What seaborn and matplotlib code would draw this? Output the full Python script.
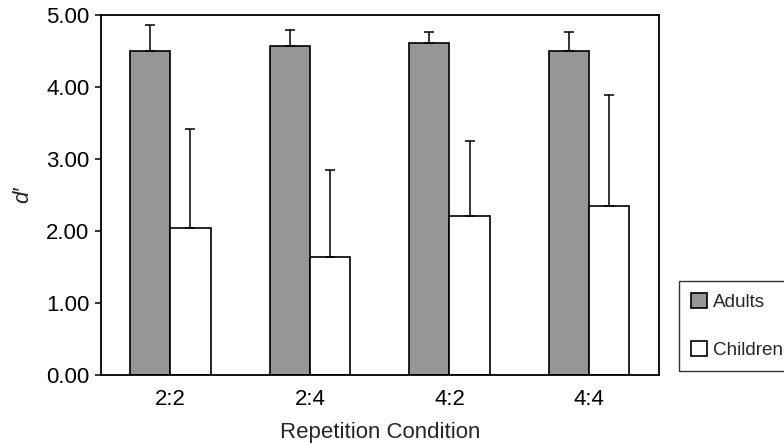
import numpy as np
import pandas as pd
import matplotlib
matplotlib.use("Agg")
import matplotlib.pyplot as plt
import seaborn as sns

conditions = ["2:2", "2:4", "4:2", "4:4"]
adults = [4.49, 4.57, 4.61, 4.49]
adults_sd = [0.36, 0.21, 0.15, 0.27]
children = [2.04, 1.63, 2.20, 2.35]
children_sd = [1.37, 1.21, 1.05, 1.53]

df = pd.DataFrame({
    "cond": conditions * 2,
    "dprime": adults + children,
    "sd": adults_sd + children_sd,
    "group": ["Adults"] * 4 + ["Children"] * 4,
})

sns.set_style("white")
plt.rcParams["font.family"] = ["Liberation Sans", "DejaVu Sans"]

fig = plt.figure(figsize=(7.84, 4.43), dpi=100)
ax = fig.add_axes([0.1284, 0.154, 0.7118, 0.813])

sns.barplot(data=df, x="cond", y="dprime", hue="group", order=conditions,
            hue_order=["Adults", "Children"], palette=["#969696", "white"],
            edgecolor="black", linewidth=1.2, width=0.575, errorbar=None,
            saturation=1, ax=ax)

# upper-only error bars on top of the drawn bars
for cont, grp in zip(ax.containers, ["Adults", "Children"]):
    sub = df[df["group"] == grp]
    xs = [p.get_x() + p.get_width() / 2 for p in cont.patches]
    hs = [p.get_height() for p in cont.patches]
    ax.errorbar(xs, hs, yerr=[np.zeros(len(hs)), sub["sd"].values],
                fmt="none", ecolor="black", elinewidth=1.1, capsize=3.5,
                capthick=1.1)

ax.set_xlim(-0.5, 3.5)
ax.set_ylim(0, 5)
ax.set_yticks(np.arange(0, 5.01, 1))
ax.set_yticklabels([f"{v:.2f}" for v in np.arange(0, 5.01, 1)])
ax.tick_params(axis="y", direction="out", length=4, width=1.1, left=True,
               labelsize=16, colors="black", pad=4)
ax.tick_params(axis="x", length=0, labelsize=16, colors="black", pad=10)
for s in ax.spines.values():
    s.set_visible(True)
    s.set_color("black")
    s.set_linewidth(1.3)

ax.set_xlabel("Repetition Condition", fontsize=16, labelpad=9)
ax.set_ylabel("d′", fontsize=16, fontstyle="italic", labelpad=9)

handles, labels = ax.get_legend_handles_labels()
ax.legend_.remove()
leg = fig.legend(handles, labels, loc="lower left",
                 bbox_to_anchor=(679 / 784, (443 - 371) / 443),
                 frameon=True, fancybox=False, edgecolor="black",
                 fontsize=13.6, handlelength=0.85, handleheight=0.85,
                 handletextpad=0.3, labelspacing=1.55, borderpad=0.65,
                 borderaxespad=0)
leg.get_frame().set_linewidth(1.0)

fig.savefig("out.png", dpi=100)
